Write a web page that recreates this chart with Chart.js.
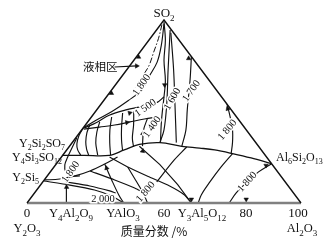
<!DOCTYPE html>
<html><head><meta charset="utf-8">
<script src="https://cdn.jsdelivr.net/npm/chart.js@4/dist/chart.umd.min.js"></script>
<style>html,body{margin:0;padding:0;background:#fff;}canvas{display:block;}</style>
</head><body>
<canvas id="c" width="328" height="242"></canvas>
<script>
// All points are compositions [Al2O3 wt%, SiO2 wt%] (rest = Y2O3)
const triangleSides = [[0,0],[0,100],[100,0]];
const triangleBase = [[0,0],[100,0]];
const liquidZone = [[0.5,97.5],[3,90],[5,82.5],[7,75],[7.6,68],[8,63]];
const iso1800Upper = [[1,98],[6,86],[9,77],[10,69],[11,62],[9,56],[6,50],[2.4,45],[0,41]];
const valleyA = [[0.5,99],[6,89],[11,78],[17,67],[21,58],[26.4,45.4],[32.3,32.8]];
const iso1500 = [[21,58],[20,55],[15,52.5],[11,51],[6,48],[3.4,44],[0.5,41]];
const iso1600 = [[5,94.5],[15,73],[24,54],[30,40],[32,33]];
const valleyB = [[6,93],[17,73],[27,54],[38,33]];
const iso1700 = [[20,80],[26,67],[33,51],[38,40],[41,31]];
const iso1800Right = [[46,54],[50,48],[55,40],[58.5,33],[61,27]];
const boundaryMain = [[0,26],[8,26],[17,26],[21,29],[25,32],[32,33],[41,31],[48,30],[54,29],[61.5,27],[69.5,24.6],[78.5,21.5]];
const garnetBoundary = [[61.5,27],[61,19.7],[61,11.5],[61.4,4.4],[62.5,0]];
const iso1800LowRight = [[78.5,21.5],[76,17],[74.5,11],[73.6,5.5],[73.8,0]];
const bigDiagonal = [[25.5,31],[38,21],[50,10],[60,0]];
const tieM1 = [[17.6,25.1],[26.9,19.7],[37.6,14.2],[47.4,9.3],[55.3,4.4],[60,0]];
const tieM2 = [[14.2,17.5],[25.7,12.6],[35.2,8.2],[39.2,6]];
const tieM3 = [[26.9,19.7],[33.3,12.6],[39.2,6],[44,0]];
const tieM4 = [[43,30.6],[42,23.5],[41.6,11.5]];
const valleyQ2 = [[0.5,40.4],[5.7,41.5],[10.7,42.6],[15.4,44.3],[19.9,45.9],[24.1,47]];
const line1400 = [[26.6,31.1],[22.6,39.9],[20.8,46.4]];
const arcA1 = [[0,41],[0.6,36.6],[2.1,32.2],[4,29],[6.5,26.2]];
const arcA2 = [[1.6,42.6],[2.7,38.3],[4.8,33.3],[7,29.5],[9.4,26.2]];
const arcA3 = [[4.4,44.3],[6.1,38.8],[8.7,32.8],[12.7,26.2]];
const arcA4 = [[7.4,47],[10.3,39.9],[13.8,32.8],[17.4,26.2]];
const arcA5 = [[10.3,49.2],[14,41],[17.3,34.4],[20.7,28.4]];
const arcA6 = [[13.8,50.3],[17.6,42.6],[20.7,35.5],[23.6,30.6]];
const loopL1 = [[0.4,35.5],[1.4,30],[2.3,25.1],[3.4,20.8],[5.7,16.9],[8.6,14.8],[11.9,14.8]];
const curveY2Si5 = [[0,12.6],[5.4,13.1],[10.1,14.8],[14.2,17.5],[17.7,21.3],[20.5,25.1]];
const lowLine2 = [[0.2,12],[10.7,9.8],[21.1,7.1],[29,3.8],[35.3,0]];
const lowLine3 = [[17.7,21.3],[24.6,12.6],[31.3,4.4],[35.3,0]];
const lowLine4 = [[8.5,11.5],[18.3,9.3],[26.9,6.6],[29.6,5.5]];
const lineY4Al2O9 = [[14.5,0],[11.5,6],[8.5,11.5],[7.6,13.1]];
const liquidPointer = [[-5.2,74.3],[2.6,74.9]];

// arrow heads: composition + direction (deg)
const arrowPoints = [[18,64.5],[0.8,60],[0.8,79.8],[19.5,79],[47.5,51.5],[77,20.5],[79,2],[59,2],[10.1,8.7],[19.5,19.1],[12.9,49.2],[14.5,44],[23.3,38],[28,28.4],[2.6,74.9]];
const arrowAngles = [180,0,0,0,-20,60,180,180,0,-15,75,80,5,130,90];

// isotherm labels
const tempLabels = ['1 800','1 500','1 600','1 700','1 400','1 800','1 800','2 000','1 800','1 800'];
const tempLabelPoints = [[9.6,64.5],[17.3,51.9],[24.7,56.8],[29.4,61.2],[25,41.5],[53.2,39.9],[7.5,16.9],[26.8,1.9],[40.3,6],[74.7,11.5]];
const tempLabelAngles = [-55,-35,-60,-55,-55,-50,-55,0,-50,-48];

// axis
const axisTicks = ['0','60','80','100'];
const baseCompounds = ['Y4Al2O9','YAlO3','Y3Al5O12'];
const edgeCompounds = ['Y2Si2SO7','Y4Si3SO12','Y2Si5','Al6Si2O13'];

const toXY = p => ({x: p[0] + p[1]/2, y: p[1]});
function line(pts, opts){
  return Object.assign({data: pts.map(toXY), showLine:true, borderColor:'#111', backgroundColor:'#111',
    borderWidth:1.15, pointRadius:0, tension:0.35, clip:false}, opts||{});
}
const datasets = [
  line(triangleSides,{tension:0, borderWidth:1.4}),
  line(triangleBase,{tension:0, borderWidth:2.6, borderColor:'#808080'}),
  line(liquidZone,{borderDash:[6,2,1.5,2], borderWidth:1}),
  line(iso1800Upper), line(valleyA), line(iso1500), line(iso1600), line(valleyB),
  line(iso1700), line(iso1800Right), line(boundaryMain,{borderWidth:1.3}), line(garnetBoundary),
  line(iso1800LowRight), line(bigDiagonal,{tension:0}), line(tieM1,{tension:0.2}), line(tieM2,{tension:0.2}),
  line(tieM3), line(tieM4),
  line(valleyQ2), line(line1400), line(arcA1), line(arcA2), line(arcA3), line(arcA4), line(arcA5), line(arcA6),
  line(loopL1), line(curveY2Si5), line(lowLine2,{tension:0.2}), line(lowLine3), line(lowLine4,{tension:0.2}),
  line(lineY4Al2O9,{tension:0}),
  line(liquidPointer,{tension:0}),
  {data: arrowPoints.map(toXY), showLine:false, pointStyle:'triangle', pointRadius:2.6,
   rotation: arrowAngles, backgroundColor:'#111', borderColor:'#111', borderWidth:0.5, clip:false}
];

const SERIF = '"Liberation Serif", "DejaVu Serif", serif';
const CJK = '"Noto Sans CJK SC", sans-serif';
function formula(ctx, str, px, py, align, size){
  const toks = str.match(/[A-Za-z]+|\d+|[^A-Za-z\d]+/g);
  const big = size+'px '+SERIF, small = Math.round(size*0.7)+'px '+SERIF;
  let w = 0;
  toks.forEach(t => { ctx.font = /^\d+$/.test(t) ? small : big; w += ctx.measureText(t).width; });
  let cx = align === 'right' ? px - w : align === 'center' ? px - w/2 : px;
  ctx.textAlign = 'left'; ctx.textBaseline = 'alphabetic';
  toks.forEach(t => { const sub = /^\d+$/.test(t); ctx.font = sub ? small : big;
    ctx.fillText(t, cx, py + (sub ? size*0.28 : 0)); cx += ctx.measureText(t).width; });
}
const textPlugin = {
  id:'texts',
  afterDatasetsDraw(chart){
    const {ctx, scales:{x, y}, chartArea:ca} = chart;
    const P = p => [x.getPixelForValue(p[0] + p[1]/2), y.getPixelForValue(p[1])];
    ctx.save();
    ctx.fillStyle = '#111';
    tempLabels.forEach((t,i) => {
      const [px,py] = P(tempLabelPoints[i]);
      ctx.save(); ctx.translate(px,py); ctx.rotate(tempLabelAngles[i]*Math.PI/180);
      ctx.font = '10.5px '+SERIF; ctx.textAlign='center'; ctx.textBaseline='middle';
      ctx.strokeStyle='#fff'; ctx.lineWidth=3; ctx.strokeText(t,0,0);
      ctx.fillText(t,0,0); ctx.restore();
    });
    const L = ca.left, R = ca.right, T = ca.top, B = ca.bottom;
    const apexX = (L+R)/2;
    formula(ctx, 'SO2', apexX, T-3, 'center', 13);
    ctx.font = '11.5px '+CJK; ctx.textAlign='left'; ctx.textBaseline='middle';
    ctx.fillText('液相区', L+56, T+47);
    formula(ctx, edgeCompounds[0], L+38, T+127, 'right', 12);
    formula(ctx, edgeCompounds[1], L+35, T+141, 'right', 12);
    formula(ctx, edgeCompounds[2], L+12, T+161, 'right', 12);
    formula(ctx, edgeCompounds[3], L+249, T+141, 'left', 12);
    ctx.font = '13px '+SERIF; ctx.textAlign='center'; ctx.textBaseline='alphabetic';
    const tickPx = [L, 164, 246, 298];
    axisTicks.forEach((t,i) => ctx.fillText(t, tickPx[i], B+14));
    const compPx = [71, 123, 202];
    baseCompounds.forEach((c,i) => formula(ctx, c, compPx[i], B+14, 'center', 12.5));
    formula(ctx, 'Y2O3', L, B+29, 'center', 12.5);
    formula(ctx, 'Al2O3', R+1, B+29, 'center', 12.5);
    ctx.font = '12px '+CJK; ctx.textAlign='center'; ctx.textBaseline='middle';
    ctx.fillText('质量分数 /%', 154, B+28);
    ctx.restore();
  }
};

new Chart(document.getElementById('c'), {
  type:'scatter',
  data:{datasets},
  options:{
    responsive:false, animation:false, devicePixelRatio:1,
    layout:{padding:{left:27, right:27, top:20, bottom:39}},
    scales:{x:{type:'linear', min:0, max:100, display:false}, y:{type:'linear', min:0, max:100, display:false}},
    plugins:{legend:{display:false}, tooltip:{enabled:false}}
  },
  plugins:[textPlugin]
});
</script>
</body></html>
